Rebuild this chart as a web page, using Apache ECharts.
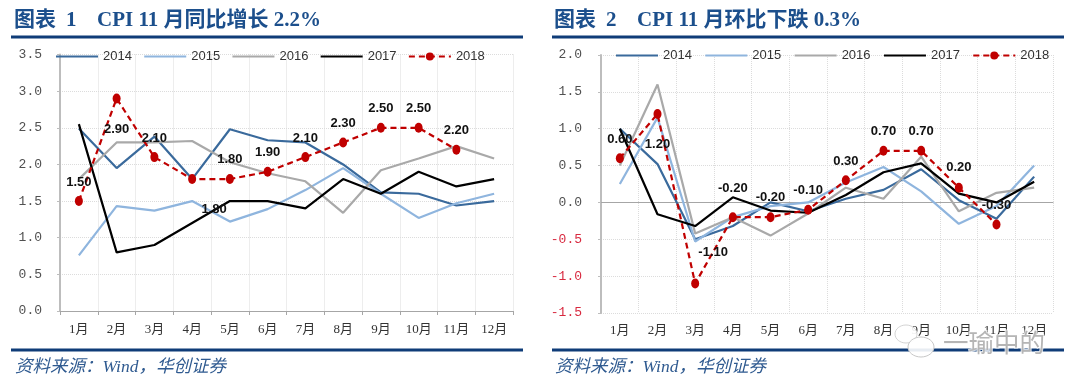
<!DOCTYPE html>
<html>
<head>
<meta charset="utf-8">
<style>
html, body { margin: 0; padding: 0; background: #fff; }
#main { width: 1080px; height: 389px; }
</style>
<script src="https://cdn.jsdelivr.net/npm/echarts@6/dist/echarts.min.js"></script>
</head>
<body>
<div id="main"></div>
<script>
var months = ['1月', '2月', '3月', '4月', '5月', '6月', '7月', '8月', '9月', '10月', '11月', '12月'];
var years = ['2014', '2015', '2016', '2017', '2018'];

// 图表1 同比
var yoy2014 = [2.49, 1.95, 2.38, 1.80, 2.48, 2.33, 2.30, 2.00, 1.62, 1.60, 1.44, 1.50];
var yoy2015 = [0.76, 1.43, 1.37, 1.50, 1.22, 1.39, 1.65, 1.95, 1.60, 1.27, 1.47, 1.60];
var yoy2016 = [1.80, 2.30, 2.30, 2.32, 2.03, 1.88, 1.77, 1.34, 1.92, 2.08, 2.25, 2.08];
var yoy2017 = [2.55, 0.80, 0.90, 1.20, 1.50, 1.50, 1.40, 1.80, 1.60, 1.90, 1.70, 1.80];
var yoy2018 = [1.5, 2.9, 2.1, 1.8, 1.8, 1.9, 2.1, 2.3, 2.5, 2.5, 2.2, null];

// 图表2 环比
var mom2014 = [1.00, 0.52, -0.50, -0.32, 0.00, -0.12, 0.05, 0.17, 0.45, 0.03, -0.22, 0.35];
var mom2015 = [0.25, 1.15, -0.53, -0.20, -0.05, 0.00, 0.27, 0.48, 0.15, -0.29, -0.05, 0.50];
var mom2016 = [0.50, 1.60, -0.42, -0.20, -0.45, -0.15, 0.20, 0.05, 0.62, -0.12, 0.13, 0.20];
var mom2017 = [1.00, -0.16, -0.32, 0.07, -0.11, -0.14, 0.10, 0.41, 0.53, 0.12, 0.00, 0.28];
var mom2018 = [0.6, 1.2, -1.1, -0.2, -0.2, -0.1, 0.3, 0.7, 0.7, 0.2, -0.3, null];

// 数据标签相对点的偏移
var yoyShift = [[0, -19], [0, 31], [0, -19], [22, 30], [0, -20], [0, -19], [0, -19], [0, -19], [0, -19], [0, -19], [0, -19]];
var momShift = [[0, -19], [0, 30], [18, -31], [0, -29], [0, -20], [0, -19], [0, -19], [0, -19], [0, -19], [0, -20], [0, -19]];

var colors = ['#3a6a9c', '#8fb5de', '#a9a9a9', '#000000', '#c00000'];
var serifFont = '"Liberation Serif", "Noto Sans CJK SC"';
var titleColor = '#1c4f8c';
var ruleColor = '#0f3c78';
var sourceText = '资料来源\uFF1AWind\uFF0C华创证券';

var mychart = echarts.init(document.getElementById('main'));

function makeLine(idx, name, values, axisIndex) {
    return {
        name: name,
        type: 'line',
        xAxisIndex: axisIndex,
        yAxisIndex: axisIndex,
        data: values,
        symbol: 'none',
        z: 2 + idx,
        lineStyle: { color: colors[idx], width: 2.2 },
        itemStyle: { color: colors[idx] }
    };
}

function make2018(values, shifts, axisIndex) {
    return {
        name: '2018',
        type: 'line',
        xAxisIndex: axisIndex,
        yAxisIndex: axisIndex,
        symbol: 'circle',
        symbolSize: [8, 10],
        z: 8,
        lineStyle: { color: colors[4], width: 2.2, type: [6, 4] },
        itemStyle: { color: colors[4] },
        data: values.map(function (v, i) {
            if (v === null) {
                return null;
            }
            return {
                value: v,
                label: {
                    show: true,
                    position: 'inside',
                    offset: shifts[i],
                    formatter: v.toFixed(2),
                    color: '#111',
                    fontSize: 13,
                    fontWeight: 'bold',
                    fontFamily: '"Liberation Sans"'
                }
            };
        })
    };
}

function makeLegend(left, top, gap) {
    return {
        left: left,
        top: top,
        padding: 0,
        itemWidth: 42,
        itemHeight: 10,
        itemGap: gap,
        data: years.map(function (y) {
            // 只有2018显示标记
            return y === '2018' ? { name: y } : { name: y, itemStyle: { opacity: 0 } };
        }),
        textStyle: { color: '#333', fontSize: 13, fontFamily: '"Liberation Sans"' }
    };
}

function makeX(gridIndex) {
    return {
        type: 'category',
        gridIndex: gridIndex,
        position: 'bottom',
        data: months,
        axisLine: { onZero: false, show: gridIndex === 0, lineStyle: { color: '#a6a6a6', width: 1 } },
        axisTick: { show: gridIndex === 0, length: 4, lineStyle: { color: '#a6a6a6' } },
        axisLabel: {
            interval: 0,
            margin: gridIndex === 0 ? 12 : 11,
            color: '#333',
            fontSize: 13,
            fontFamily: serifFont
        },
        splitLine: { show: true, lineStyle: { color: '#dcdcdc', type: 'dotted' } }
    };
}

// 右图0轴单独画一条
function makeZeroX(gridIndex) {
    return {
        type: 'category',
        gridIndex: gridIndex,
        position: 'top',
        data: months,
        axisLine: { onZero: true, lineStyle: { color: '#a6a6a6', width: 1 } },
        axisTick: { show: false },
        axisLabel: { show: false },
        splitLine: { show: false }
    };
}

function makeY(gridIndex, min, max, margin) {
    return {
        type: 'value',
        gridIndex: gridIndex,
        min: min,
        max: max,
        interval: 0.5,
        axisLine: { show: true, onZero: false, lineStyle: { color: '#bdbdbd', width: 2 } },
        axisTick: { show: true, length: 3, lineStyle: { color: '#bdbdbd' } },
        axisLabel: {
            margin: margin,
            fontSize: 13,
            fontFamily: '"Liberation Mono"',
            color: function (v) {
                return v < 0 ? '#d8293f' : '#505050';
            },
            formatter: function (v) {
                return v.toFixed(1);
            }
        },
        splitLine: { show: true, lineStyle: { color: '#dcdcdc', type: 'dotted' } }
    };
}

function rule(x, y, w) {
    return {
        type: 'rect',
        z: 10,
        shape: { x: x, y: y, width: w, height: 3 },
        style: { fill: ruleColor }
    };
}

function text(str, x, y, font, color) {
    return {
        type: 'text',
        z: 11,
        x: x,
        y: y,
        style: { text: str, font: font, fill: color, textVerticalAlign: 'middle' }
    };
}

var titleFont = 'bold 21px ' + serifFont;
var sourceFont = 'italic 17.5px ' + serifFont;

var option = {
    backgroundColor: '#fff',
    animation: false,
    grid: [
        { left: 60, top: 54.5, width: 453, height: 256.5, outerBoundsMode: 'none' },
        { left: 601, top: 55, width: 452, height: 258, outerBoundsMode: 'none' }
    ],
    legend: [makeLegend(55, 50, 11.3), makeLegend(615, 49, 12.4)],
    xAxis: [makeX(0), makeX(1), makeZeroX(1)],
    yAxis: [makeY(0, 0, 3.5, 18), makeY(1, -1.5, 2, 19)],
    series: [
        makeLine(0, '2014', yoy2014, 0),
        makeLine(1, '2015', yoy2015, 0),
        makeLine(2, '2016', yoy2016, 0),
        makeLine(3, '2017', yoy2017, 0),
        make2018(yoy2018, yoyShift, 0),
        makeLine(0, '2014', mom2014, 1),
        makeLine(1, '2015', mom2015, 1),
        makeLine(2, '2016', mom2016, 1),
        makeLine(3, '2017', mom2017, 1),
        make2018(mom2018, momShift, 1)
    ],
    graphic: [
        text('图表', 14, 21, titleFont, titleColor),
        text('1', 66, 21, titleFont, titleColor),
        text('CPI 11 月同比增长 2.2%', 97, 21, titleFont, titleColor),
        text('图表', 554, 21, titleFont, titleColor),
        text('2', 606, 21, titleFont, titleColor),
        text('CPI 11 月环比下跌 0.3%', 637, 21, titleFont, titleColor),
        rule(11, 35.5, 512),
        rule(552, 35.5, 512),
        rule(11, 348.5, 512),
        rule(552, 348.5, 512),
        text(sourceText, 15, 367, sourceFont, '#2f5a90'),
        text(sourceText, 555, 367, sourceFont, '#2f5a90'),
        // 水印
        {
            type: 'ellipse',
            z: 12,
            shape: { cx: 906, cy: 334, rx: 11, ry: 9 },
            style: { fill: 'rgba(255,255,255,0.9)', stroke: '#d4d4d4', lineWidth: 1 }
        },
        {
            type: 'ellipse',
            z: 12,
            shape: { cx: 921, cy: 347, rx: 13, ry: 10 },
            style: { fill: 'rgba(255,255,255,0.9)', stroke: '#c8c8c8', lineWidth: 1 }
        },
        {
            type: 'text',
            z: 12,
            x: 943,
            y: 342,
            style: {
                text: '一瑜中的',
                font: '25.5px "Noto Sans CJK SC"',
                fill: '#b5b5b5',
                stroke: 'rgba(255,255,255,0.8)',
                lineWidth: 2,
                textVerticalAlign: 'middle'
            }
        }
    ]
};
mychart.setOption(option);
</script>
</body>
</html>
